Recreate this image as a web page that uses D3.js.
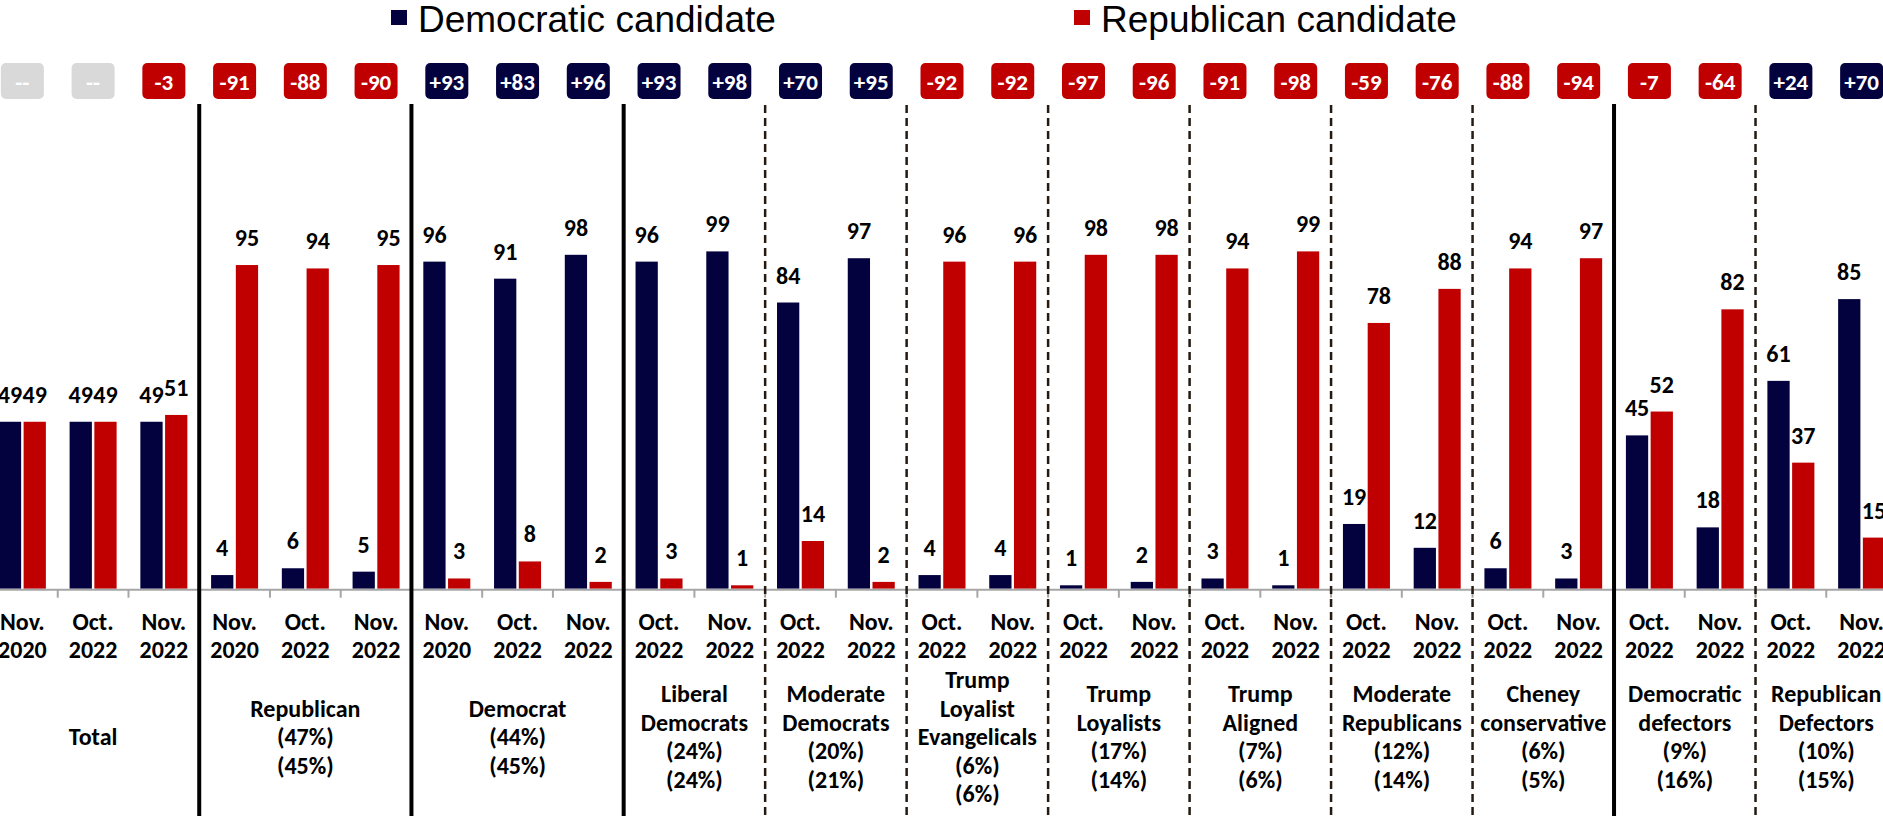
<!DOCTYPE html>
<html>
<head>
<meta charset="utf-8">
<script src="https://cdn.jsdelivr.net/npm/d3@7"></script>
<style>
  html, body { margin: 0; padding: 0; background: #fff; overflow: hidden; }
  svg { display: block; }
</style>
</head>
<body>
<svg id="chart" width="1883" height="821"></svg>
<script>
// ---- data ----
const seriesNames = ["Democratic candidate", "Republican candidate"];

const periods = [
  "Nov. 2020", "Oct. 2022", "Nov. 2022",
  "Nov. 2020", "Oct. 2022", "Nov. 2022",
  "Nov. 2020", "Oct. 2022", "Nov. 2022",
  "Oct. 2022", "Nov. 2022",
  "Oct. 2022", "Nov. 2022",
  "Oct. 2022", "Nov. 2022",
  "Oct. 2022", "Nov. 2022",
  "Oct. 2022", "Nov. 2022",
  "Oct. 2022", "Nov. 2022",
  "Oct. 2022", "Nov. 2022",
  "Oct. 2022", "Nov. 2022",
  "Oct. 2022", "Nov. 2022"
];

const demValues = [49, 49, 49, 4, 6, 5, 96, 91, 98, 96, 99, 84, 97, 4, 4, 1, 2, 3, 1, 19, 12, 6, 3, 45, 18, 61, 85];
const repValues = [49, 49, 51, 95, 94, 95, 3, 8, 2, 3, 1, 14, 2, 96, 96, 98, 98, 94, 99, 78, 88, 94, 97, 52, 82, 37, 15];

const margins = ["--", "--", "-3", "-91", "-88", "-90", "+93", "+83", "+96", "+93", "+98", "+70", "+95",
  "-92", "-92", "-97", "-96", "-91", "-98", "-59", "-76", "-88", "-94", "-7", "-64", "+24", "+70"];

const groupLabels = [
  ["Total"],
  ["Republican", "(47%)", "(45%)"],
  ["Democrat", "(44%)", "(45%)"],
  ["Liberal", "Democrats", "(24%)", "(24%)"],
  ["Moderate", "Democrats", "(20%)", "(21%)"],
  ["Trump", "Loyalist", "Evangelicals", "(6%)", "(6%)"],
  ["Trump", "Loyalists", "(17%)", "(14%)"],
  ["Trump", "Aligned", "(7%)", "(6%)"],
  ["Moderate", "Republicans", "(12%)", "(14%)"],
  ["Cheney", "conservative", "(6%)", "(5%)"],
  ["Democratic", "defectors", "(9%)", "(16%)"],
  ["Republican", "Defectors", "(10%)", "(15%)"]
];
const groupSizes = [3, 3, 3, 2, 2, 2, 2, 2, 2, 2, 2, 2];
// line style on the left edge of each group
const groupDividers = [null, "solid", "solid", "solid", "dashed", "dashed", "dashed", "dashed", "dashed", "dashed", "solid", "dashed"];

// ---- styles ----
const DEM = "#03023f";
const REP = "#c00000";
const NEUTRAL = "#d9d9d9";
const FONT = "Carlito, Lato, 'Open Sans', sans-serif";
const FS = 24;

const W = 1883, H = 821;
const svg = d3.select("#chart");

const defs = svg.append("defs");
defs.append("filter").attr("id", "soft")
  .attr("x", "-200%").attr("width", "500%")
  .append("feGaussianBlur").attr("stdDeviation", 1.6);

const x = d3.scaleBand().domain(d3.range(periods.length)).range([-13, 1897]);
const inner = d3.scaleBand().domain(["dem", "rep"]).range([0, 47]).paddingInner(0.1);
const innerOff = (x.bandwidth() - 47) / 2;
const y = d3.scaleLinear().domain([0, 100]).range([588.7, 248]);
const color = d3.scaleOrdinal().domain(["dem", "rep"]).range([DEM, REP]);

const rows = periods.map((p, i) => ({ i, period: p, dem: demValues[i], rep: repValues[i], margin: margins[i] }));

// ---- legend ----
const legendX = [391, 1074];
const legend = svg.append("g");
seriesNames.forEach((name, k) => {
  legend.append("rect")
    .attr("x", legendX[k]).attr("y", 10)
    .attr("width", 16).attr("height", 15)
    .attr("fill", k === 0 ? DEM : REP);
  legend.append("text")
    .attr("x", legendX[k] + 27).attr("y", 32)
    .attr("font-family", "'Liberation Sans', Arial, sans-serif")
    .attr("font-size", 37)
    .attr("fill", "#000")
    .text(name);
});

// ---- margin badges ----
const badge = svg.append("g").selectAll("g")
  .data(rows)
  .join("g")
  .attr("transform", d => `translate(${x(d.i) + x.bandwidth() / 2},0)`);

badge.append("rect")
  .attr("x", -21.5).attr("y", 63)
  .attr("width", 43).attr("height", 36)
  .attr("rx", 5).attr("ry", 5)
  .attr("fill", d => d.margin.startsWith("+") ? DEM : (d.margin === "--" ? NEUTRAL : REP));

badge.append("text")
  .attr("y", 89.5)
  .attr("text-anchor", "middle")
  .attr("font-family", FONT)
  .attr("font-weight", 700)
  .attr("font-size", 23)
  .attr("fill", "#fff")
  .text(d => d.margin);

// ---- bars ----
const cat = svg.append("g").selectAll("g")
  .data(rows)
  .join("g")
  .attr("transform", d => `translate(${x(d.i) + innerOff},0)`);

cat.selectAll("rect")
  .data(d => ["dem", "rep"].map(k => ({ key: k, value: d[k] })))
  .join("rect")
  .attr("x", d => inner(d.key))
  .attr("width", inner.bandwidth())
  .attr("y", d => y(d.value))
  .attr("height", d => y(0) - y(d.value))
  .attr("fill", d => color(d.key));

cat.selectAll("text")
  .data(d => ["dem", "rep"].map(k => ({ key: k, value: d[k] })))
  .join("text")
  .attr("x", d => inner(d.key) + inner.bandwidth() / 2)
  .attr("y", d => y(d.value) - 19)
  .attr("text-anchor", "middle")
  .attr("font-family", FONT)
  .attr("font-weight", 700)
  .attr("font-size", FS)
  .attr("fill", "#000")
  .text(d => d.value);

// ---- x axis ----
const axis = svg.append("g");
axis.append("line")
  .attr("x1", 0).attr("x2", W)
  .attr("y1", y(0) + 1).attr("y2", y(0) + 1)
  .attr("stroke", "#a6a6a6").attr("stroke-width", 2);

axis.selectAll("line.tick")
  .data(d3.range(1, periods.length))
  .join("line")
  .attr("class", "tick")
  .attr("x1", d => x(d)).attr("x2", d => x(d))
  .attr("y1", y(0) + 1).attr("y2", y(0) + 9)
  .attr("stroke", "#a6a6a6").attr("stroke-width", 2);

axis.selectAll("text")
  .data(rows)
  .join("text")
  .attr("x", d => x(d.i) + x.bandwidth() / 2)
  .attr("text-anchor", "middle")
  .attr("font-family", FONT)
  .attr("font-weight", 700)
  .attr("font-size", FS)
  .attr("fill", "#000")
  .each(function(d) {
    const t = d3.select(this);
    d.period.split(" ").forEach((part, k) => {
      t.append("tspan")
        .attr("x", x(d.i) + x.bandwidth() / 2)
        .attr("y", 630 + k * 28.4)
        .text(part);
    });
  });

// ---- groups: labels + dividers ----
const groupStart = d3.cumsum([0].concat(groupSizes)).slice(0, groupSizes.length);
const groups = groupLabels.map((lines, g) => ({
  lines,
  start: groupStart[g],
  size: groupSizes[g],
  divider: groupDividers[g]
}));

const lineH = 28.5;
svg.append("g").selectAll("text")
  .data(groups)
  .join("text")
  .attr("text-anchor", "middle")
  .attr("font-family", FONT)
  .attr("font-weight", 700)
  .attr("font-size", FS)
  .attr("fill", "#000")
  .each(function(g) {
    const t = d3.select(this);
    const cx = x(g.start) + g.size * x.bandwidth() / 2;
    g.lines.forEach((ln, k) => {
      t.append("tspan")
        .attr("x", cx)
        .attr("y", 745 + (k - (g.lines.length - 1) / 2) * lineH)
        .text(ln);
    });
  });

const div = svg.append("g");
groups.filter(g => g.divider).forEach(g => {
  const xx = x(g.start);
  if (g.divider === "solid") {
    div.append("line")
      .attr("x1", xx).attr("x2", xx)
      .attr("y1", 104).attr("y2", 816)
      .attr("stroke", "#000").attr("stroke-width", 4);
  } else {
    div.append("line")
      .attr("x1", xx).attr("x2", xx)
      .attr("y1", 105).attr("y2", 816)
      .attr("stroke", "#9a9a9a").attr("stroke-width", 4)
      .attr("stroke-dasharray", "8,5")
      .attr("opacity", 0.45)
      .attr("filter", "url(#soft)");
    div.append("line")
      .attr("x1", xx).attr("x2", xx)
      .attr("y1", 105).attr("y2", 816)
      .attr("stroke", "#241a12").attr("stroke-width", 2.5)
      .attr("stroke-dasharray", "8,5");
  }
});
</script>
</body>
</html>
